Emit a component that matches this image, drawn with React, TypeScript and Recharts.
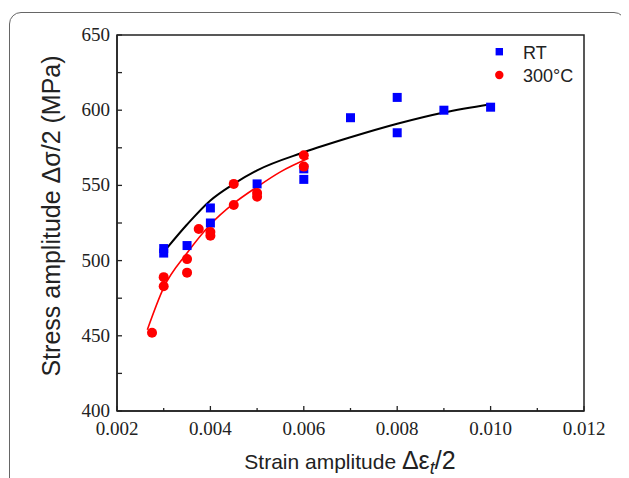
import {
  ComposedChart,
  Legend,
  Line,
  ReferenceArea,
  Scatter,
  XAxis,
  YAxis,
} from 'recharts'

// axis ticks
const strainTicks = [0.002, 0.003, 0.004, 0.005, 0.006, 0.007, 0.008, 0.009, 0.01, 0.011, 0.012]
const stressTicks = [400, 425, 450, 475, 500, 525, 550, 575, 600, 625, 650]

// RT measurements
const rtStrain = [0.003, 0.003, 0.0035, 0.004, 0.004, 0.005, 0.006, 0.006, 0.007, 0.008, 0.008, 0.009, 0.01]
const rtStress = [508, 505, 510, 535, 525, 551, 561, 554, 595, 608.5, 585, 600, 602]

// 300°C measurements
const hotStrain = [0.00275, 0.003, 0.003, 0.0035, 0.0035, 0.00375, 0.004, 0.004, 0.0045, 0.0045, 0.005, 0.005, 0.006, 0.006]
const hotStress = [452, 489, 483, 501, 492, 521, 519, 516.5, 551, 537, 545, 542.5, 570, 562.5]

// fitted curves
const rtFitStrain = [0.00306, 0.0035, 0.004, 0.0045, 0.005, 0.006, 0.007, 0.008, 0.009, 0.01]
const rtFitStress = [508, 524, 540, 551, 560, 572, 582, 591, 598.5, 604]
const hotFitStrain = [0.00265, 0.003, 0.0035, 0.004, 0.0045, 0.005, 0.0055, 0.0061]
const hotFitStress = [454, 482, 505, 524, 538, 549, 559, 568]

const zip = (xs: number[], ys: number[]) => xs.map((x, i) => ({ x, y: ys[i] }))

const SERIF = { fontFamily: "'Liberation Serif', 'Times New Roman', Times, serif" }
const SANS = { fontFamily: "'Liberation Sans', Arial, Helvetica, sans-serif" }

const BlueSquare = (props: any) => (
  <rect x={props.cx - 4.5} y={props.cy - 4.5} width={9} height={9} fill="#0000ff" />
)

const RedDot = (props: any) => <circle cx={props.cx} cy={props.cy} r={5} fill="#ff0000" />

const XTick = ({ x, y, payload }: any) => {
  const major = Math.round(payload.value * 1000) % 2 === 0
  return (
    <g>
      <line x1={x} x2={x} y1={y} y2={y - (major ? 5 : 3)} stroke="#222" strokeWidth={1.3} />
      {major && (
        <text x={x} y={y + 24} textAnchor="middle" style={SERIF} fontSize={19} fill="#222">
          {payload.value.toFixed(3)}
        </text>
      )}
    </g>
  )
}

const YTick = ({ x, y, payload }: any) => {
  const major = payload.value % 50 === 0
  return (
    <g>
      <line x1={x} x2={x + 5} y1={y} y2={y} stroke="#222" strokeWidth={1.3} />
      {major && (
        <text x={x - 7} y={y + 6} textAnchor="end" style={SERIF} fontSize={19} fill="#222">
          {payload.value}
        </text>
      )}
    </g>
  )
}

const LegendBox = () => (
  <svg width={100} height={50} style={{ display: 'block' }}>
    <rect x={3.6} y={6} width={7.4} height={7.4} fill="#0000ff" />
    <text x={31} y={16.5} style={SANS} fontSize={18} fill="#222">RT</text>
    <circle cx={7.3} cy={33} r={4.2} fill="#ff0000" />
    <text x={31} y={40} style={SANS} fontSize={18} fill="#222">300°C</text>
  </svg>
)

export default function App() {
  return (
    <div style={{ position: 'relative', width: 621, height: 470, overflow: 'hidden' }}>
      <div
        style={{
          position: 'absolute',
          left: 1,
          top: 4,
          width: 617,
          height: 520,
          border: '1px solid #666',
          borderRadius: 12,
          boxSizing: 'border-box',
        }}
      />
      <ComposedChart
        width={621}
        height={470}
        margin={{ top: 27, right: 45, bottom: 0, left: 0 }}
        style={{ position: 'absolute', left: 0, top: 0 }}
      >
        <XAxis
          type="number"
          dataKey="x"
          domain={[0.002, 0.012]}
          ticks={strainTicks}
          interval={0}
          height={67}
          tickSize={0}
          tickMargin={0}
          tickLine={false}
          tick={<XTick />}
          axisLine={{ stroke: '#222', strokeWidth: 1.5 }}
          allowDataOverflow
          label={{
            position: 'insideBottom',
            content: () => (
              <text x={342} y={461} textAnchor="middle" style={SANS} fill="#222">
                <tspan fontSize={21}>Strain amplitude </tspan>
                <tspan fontSize={25}>Δε</tspan>
                <tspan fontSize={18} fontStyle="italic" dy={5}>t</tspan>
                <tspan fontSize={25} dy={-5}>/2</tspan>
              </text>
            ),
          }}
        />
        <YAxis
          type="number"
          dataKey="y"
          domain={[400, 650]}
          ticks={stressTicks}
          interval={0}
          width={109}
          tickSize={0}
          tickMargin={0}
          tickLine={false}
          tick={<YTick />}
          axisLine={{ stroke: '#222', strokeWidth: 1.5 }}
          allowDataOverflow
          label={{
            position: 'insideLeft',
            content: () => (
              <text
                x={43}
                y={208}
                transform="rotate(-90 43 208)"
                textAnchor="middle"
                dominantBaseline="central"
                style={SANS}
                fontSize={25}
                fill="#222"
              >
                Stress amplitude Δσ/2 (MPa)
              </text>
            ),
          }}
        />
        <ReferenceArea
          x1={0.002}
          x2={0.012}
          y1={400}
          y2={650}
          fill="none"
          fillOpacity={0}
          stroke="#222"
          strokeWidth={1.5}
          ifOverflow="visible"
        />
        <Scatter name="RT" data={zip(rtStrain, rtStress)} shape={<BlueSquare />} isAnimationActive={false} />
        <Scatter name="300°C" data={zip(hotStrain, hotStress)} shape={<RedDot />} isAnimationActive={false} />
        <Line
          data={zip(rtFitStrain, rtFitStress)}
          dataKey="y"
          type="monotone"
          stroke="#000"
          strokeWidth={2}
          dot={false}
          legendType="none"
          isAnimationActive={false}
        />
        <Line
          data={zip(hotFitStrain, hotFitStress)}
          dataKey="y"
          type="monotone"
          stroke="#ff0000"
          strokeWidth={1.6}
          dot={false}
          legendType="none"
          isAnimationActive={false}
        />
        <Legend
          layout="vertical"
          align="center"
          verticalAlign="middle"
          content={<LegendBox />}
          wrapperStyle={{ position: 'absolute', left: 484, top: 34, width: 100, height: 50 }}
        />
      </ComposedChart>
    </div>
  )
}
